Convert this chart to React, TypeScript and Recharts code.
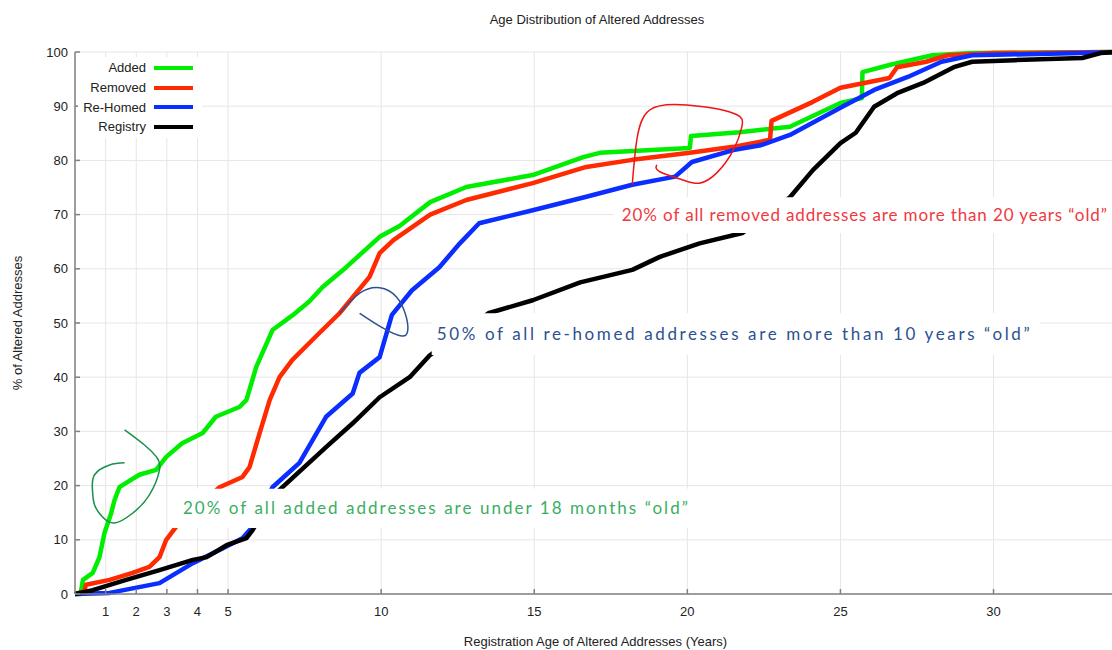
import React from 'react'
import { LineChart, Line, XAxis, YAxis, CartesianGrid, ReferenceArea } from 'recharts'

type Pt = { age: number; pct: number }
const pts = (rows: number[][]): Pt[] => rows.map(([age, pct]) => ({ age, pct }))

// cumulative % of altered addresses by registration age (years)
const added = pts([
  [0, 0], [0.18, 0], [0.26, 2.6], [0.58, 3.9], [0.8, 6.8], [0.96, 11.2], [1.18, 14.9], [1.29, 17.3],
  [1.45, 19.7], [1.67, 20.5], [2.1, 22], [2.65, 22.9], [2.98, 25.3], [3.5, 27.8], [4.17, 29.7],
  [4.6, 32.7], [5.37, 34.5], [5.6, 35.8], [5.92, 41.9], [6.45, 48.7], [7.1, 51.4], [7.66, 54],
  [8.08, 56.6], [8.86, 60.3], [9.95, 65.9], [10.6, 67.9], [11.6, 72.3], [12.78, 75.1], [14.95, 77.3],
  [16.6, 80.6], [17.14, 81.4], [20.08, 82.3], [20.12, 84.5], [21.7, 85.2], [23.35, 86.2], [25.0, 90.6],
  [25.7, 91.5], [25.72, 96.3], [26.6, 97.6], [28.0, 99.4], [29.3, 99.8], [34, 100],
])

const removed = pts([
  [0, 0], [0.3, 0.5], [0.36, 1.7], [1.13, 2.6], [1.88, 3.9], [2.43, 5], [2.76, 6.8], [2.98, 10],
  [3.3, 12.4], [3.9, 15.5], [4.72, 19.7], [5.47, 21.6], [5.7, 23.4], [6.03, 29.7], [6.36, 35.8],
  [6.68, 40], [7.1, 43.2], [7.99, 48.2], [8.64, 51.8], [9.62, 58.5], [9.95, 62.9], [10.4, 65.3],
  [11.6, 70], [12.78, 72.7], [14.95, 75.8], [16.7, 78.8], [18.2, 80.1], [20.08, 81.4], [21.5, 82.5],
  [22.7, 83.8], [22.75, 87.3], [24.1, 90.8], [25.0, 93.4], [26.6, 95.2], [26.85, 97.2], [27.8, 98.2],
  [28.5, 99.4], [30, 99.8], [34, 100],
])

const rehomed = pts([
  [0, 0], [1.13, 0.2], [2.76, 2], [3.85, 5.7], [4.72, 8.1], [5.47, 10.3], [5.8, 12.4], [6.1, 16],
  [6.45, 19.7], [7.33, 24.2], [8.2, 32.7], [9.07, 37], [9.29, 40.8], [9.95, 43.7], [10.18, 48.2],
  [10.35, 51.5], [11.0, 56], [11.9, 60.3], [12.57, 64.7], [13.2, 68.4], [14.95, 70.8], [16.7, 73.3],
  [18.2, 75.5], [19.6, 77], [20.15, 79.7], [21.5, 81.9], [22.4, 82.8], [23.35, 84.7], [25.0, 89.7],
  [26.1, 93], [27.2, 95.4], [28.3, 98.2], [29.3, 99.4], [32.9, 99.8], [34, 100],
])

const registry = pts([
  [0, 0], [0.58, 0.7], [1.67, 2.6], [2.76, 4.4], [3.85, 6.3], [4.3, 6.8], [4.95, 9], [5.6, 10.3],
  [5.8, 11.8], [6.2, 15.5], [6.68, 19.2], [8.2, 27.1], [9.07, 31.5], [9.95, 36.3], [10.93, 40],
  [11.58, 44], [13.5, 51.8], [14.95, 54.2], [16.5, 57.5], [18.2, 59.8], [19.1, 62.2], [20.4, 64.7],
  [21.8, 66.6], [22.6, 70], [23.35, 73.2], [24.1, 78.2], [25.0, 83.2], [25.5, 85.1], [26.1, 89.9],
  [26.85, 92.4], [27.7, 94.3], [28.7, 97.2], [29.3, 98.2], [30.7, 98.5], [32.9, 98.9], [33.5, 99.8],
  [34, 100],
])

// hand drawn loops
const greenLoop = pts([
  [1.62, 24.2], [1.13, 23.8], [0.64, 22], [0.57, 19.2], [0.64, 16.4], [0.9, 14.2], [1.29, 13.1],
  [1.88, 14.9], [2.43, 18.3], [2.76, 22.9], [2.66, 25.3], [2.27, 27.5], [1.62, 30.3],
])
const blueLoop = pts([
  [8.64, 51.8], [9.3, 55.5], [9.95, 56.5], [10.5, 54.8], [10.8, 51.5], [10.87, 48.7], [10.67, 47.6],
  [10.05, 49.1], [9.3, 51.8],
])
const redLoop = pts([
  [18.2, 75.5], [18.35, 83.8], [18.77, 89.3], [19.98, 90.2], [21.5, 88.7], [21.78, 86.2], [21.5, 81.9],
  [20.96, 77.7], [20.4, 75.8], [19.85, 76.4], [19.1, 77.9], [19.0, 79.2],
])

const xTicks = [1, 2, 3, 4, 5, 10, 15, 20, 25, 30]
const yTicks = [0, 10, 20, 30, 40, 50, 60, 70, 80, 90, 100]

const series = [
  { name: 'Added', color: '#00ee00', data: added },
  { name: 'Removed', color: '#ff2a00', data: removed },
  { name: 'Re-Homed', color: '#0a2eff', data: rehomed },
  { name: 'Registry', color: '#000000', data: registry },
]

const notes = [
  { text: '20% of all added addresses are under 18 months \u201cold\u201d', color: '#3aae62', x1: 3.1, x2: 20.4, y1: 12.2, y2: 19.4, inset: 13, span: 505 },
  { text: '50% of all re-homed addresses are more than 10 years \u201cold\u201d', color: '#2c5190', x1: 11.65, x2: 31.5, y1: 44.1, y2: 51.8, inset: 5, span: 593 },
  { text: '20% of all removed addresses are more than 20 years \u201cold\u201d', color: '#f0393f', x1: 17.6, x2: 34, y1: 66.6, y2: 73.2, inset: 8, span: 485 },
]

const loops = [
  { data: greenLoop, color: '#16914a' },
  { data: blueLoop, color: '#2c5190' },
  { data: redLoop, color: '#ee1515' },
]

const font = '"Liberation Sans", Arial, sans-serif'
const axisStroke = '#808080'
const txt = { fontSize: 13, fill: '#222', fontFamily: font }

function Note(props: any) {
  const { viewBox, text, color, inset, span } = props
  if (!viewBox) return null
  return (
    <text
      x={viewBox.x + inset}
      y={viewBox.y + viewBox.height / 2}
      dy="0.35em"
      fill={color}
      fontFamily="Lato, sans-serif"
      fontSize={17}
      textLength={span}
      lengthAdjust="spacing"
    >
      {text}
    </text>
  )
}

export default function App() {
  return (
    <div style={{ position: 'fixed', left: 0, top: 0, width: 1112, height: 650, overflow: 'hidden', background: '#fff', fontFamily: font }}>
      <div style={{ position: 'absolute', left: 0, width: 1194, top: 12, textAlign: 'center', fontSize: 13, color: '#222' }}>
        Age Distribution of Altered Addresses
      </div>
      <LineChart width={1130} height={650} margin={{ top: 52, right: 14, left: 0, bottom: 0 }}>
        <CartesianGrid stroke="#e6e6e6" strokeWidth={1} />
        <XAxis
          dataKey="age"
          type="number"
          domain={[0, 34]}
          ticks={xTicks}
          height={56}
          tickSize={-5}
          tickMargin={18}
          axisLine={{ stroke: axisStroke, strokeWidth: 1.5 }}
          tickLine={{ stroke: axisStroke, strokeWidth: 1.5 }}
          tick={txt}
          label={{ value: 'Registration Age of Altered Addresses (Years)', position: 'insideBottom', offset: 4, ...txt }}
        />
        <XAxis
          xAxisId="top"
          orientation="top"
          dataKey="age"
          type="number"
          domain={[0, 34]}
          ticks={xTicks}
          height={0}
          tickSize={-5}
          tickFormatter={() => ''}
          axisLine={{ stroke: axisStroke, strokeWidth: 1.5 }}
          tickLine={{ stroke: axisStroke, strokeWidth: 1.5 }}
        />
        <YAxis
          type="number"
          domain={[0, 100]}
          ticks={yTicks}
          width={75}
          tickSize={-5}
          tickMargin={12}
          axisLine={{ stroke: axisStroke, strokeWidth: 1.5 }}
          tickLine={{ stroke: axisStroke, strokeWidth: 1.5 }}
          tick={txt}
          label={{ value: '% of Altered Addresses', angle: -90, position: 'insideLeft', offset: 17, ...txt, style: { textAnchor: 'middle' } }}
        />
        {series.map(s => (
          <Line
            key={s.name}
            data={s.data}
            dataKey="pct"
            name={s.name}
            type="linear"
            stroke={s.color}
            strokeWidth={4.5}
            strokeLinejoin="round"
            dot={false}
            activeDot={false}
            isAnimationActive={false}
          />
        ))}
        {notes.map(n => (
          <ReferenceArea
            key={n.text}
            x1={n.x1}
            x2={n.x2}
            y1={n.y1}
            y2={n.y2}
            fill="#ffffff"
            fillOpacity={1}
            stroke="none"
            ifOverflow="visible"
            zIndex={900}
            label={<Note text={n.text} color={n.color} inset={n.inset} span={n.span} />}
          />
        ))}
        {loops.map((l, i) => (
          <Line
            key={i}
            data={l.data}
            dataKey="pct"
            type="natural"
            stroke={l.color}
            strokeWidth={1.5}
            dot={false}
            activeDot={false}
            legendType="none"
            isAnimationActive={false}
            zIndex={950}
          />
        ))}
      </LineChart>
      <div style={{ position: 'absolute', left: 78, top: 57, width: 124, background: '#fff', padding: '1px 0', fontSize: 13, color: '#222' }}>
        {series.map(s => (
          <div key={s.name} style={{ display: 'flex', alignItems: 'center', height: 19.7 }}>
            <span style={{ width: 68, textAlign: 'right', whiteSpace: 'nowrap' }}>{s.name}</span>
            <span style={{ width: 39, height: 4, background: s.color, marginLeft: 8 }} />
          </div>
        ))}
      </div>
    </div>
  )
}
